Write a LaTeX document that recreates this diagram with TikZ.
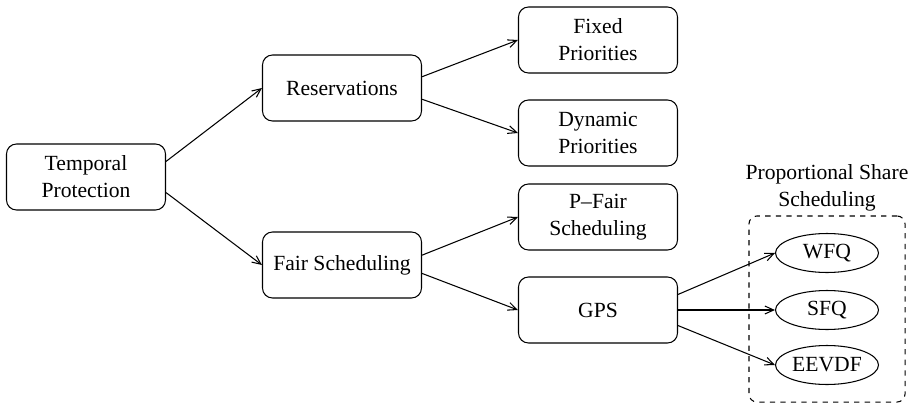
\documentclass[tikz,border=0pt]{standalone}
\usepackage{fontspec}
\setmainfont{Liberation Serif}
\usetikzlibrary{shapes.geometric, arrows.meta, positioning, fit}
\tikzstyle{block} = [rectangle, rounded corners=0.2cm, minimum width=3.18cm, minimum height=1.32cm, text centered, align=center, draw=black, line width=0.6pt]
\tikzstyle{leaf} = [ellipse, minimum width=2.06cm, minimum height=0.78cm, inner sep=0pt, text centered, draw=black, line width=0.6pt]
\tikzstyle{group} = [rectangle, rounded corners=0.16cm, dashed, draw=black, line width=0.6pt]
\tikzstyle{arrow} = [line width=0.6pt, ->, >={Straight Barb[length=5pt, width=4.5pt]}]

\begin{document}
\begin{tikzpicture}[node distance=5.12cm, font=\fontsize{12.3}{15.4}\selectfont]
                \useasboundingbox (0,0) rectangle (18.24,8.1);
                \node (tp) [block] at (1.72,4.56) {Temporal\\Protection};
                \node (res) [block, right of=tp, yshift=1.78cm] {Reservations};
                \node (fair) [block, right of=tp, yshift=-1.76cm] {Fair Scheduling};
                \node (fixed) [block, right of=res, yshift=0.96cm] {Fixed\\Priorities};
                \node (dyn) [block, right of=res, yshift=-0.9cm] {Dynamic\\Priorities};
                \node (pfair) [block, right of=fair, yshift=0.96cm] {P--Fair\\Scheduling};
                \node (gps) [block, right of=fair, yshift=-0.9cm] {GPS};
                \node (wfq) [leaf, right of=gps, xshift=-0.54cm, yshift=1.14cm] {WFQ};
                \node (sfq) [leaf, right of=gps, xshift=-0.54cm] {SFQ};
                \node (eevdf) [leaf, right of=gps, xshift=-0.54cm, yshift=-1.1cm] {EEVDF};
                \node (pss) [group, fit=(wfq) (eevdf), inner xsep=0.52cm, inner ysep=0.34cm] {};
                \node (psstitle) [above=-0.04cm of pss, align=center] {Proportional Share\\Scheduling};

                \draw [arrow] (tp.11) -- (res.west);
                \draw [arrow] (tp.-11) -- (fair.west);
                \draw [arrow] (res.8) -- (fixed.west);
                \draw [arrow] (res.-8) -- (dyn.west);
                \draw [arrow] (fair.7) -- (pfair.west);
                \draw [arrow] (fair.-6) -- (gps.west);
                \draw [arrow] (gps.11) -- (wfq.west);
                \draw [arrow] (gps.east) -- (sfq.west);
                \draw [arrow] (gps.-11) -- (eevdf.west);
            \end{tikzpicture}
\end{document}
